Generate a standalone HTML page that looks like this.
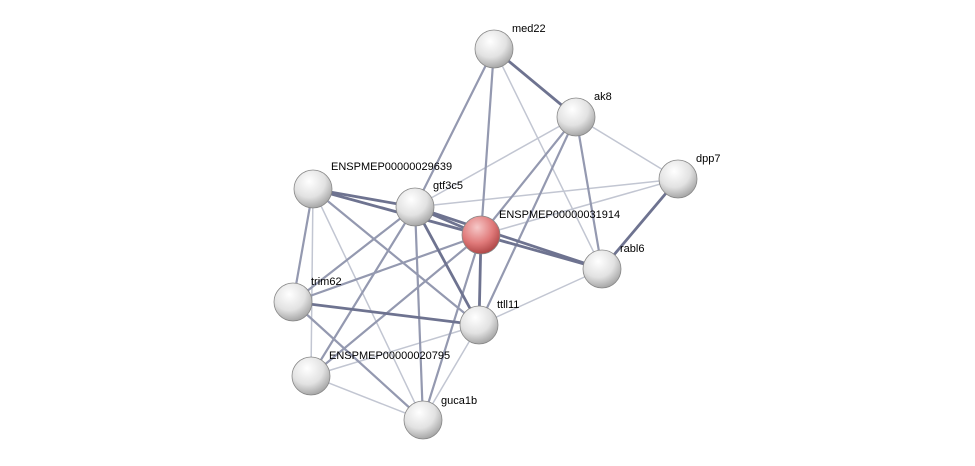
<!DOCTYPE html>
<html><head><meta charset="utf-8"><style>
html,body{margin:0;padding:0;background:#fff;}
svg{display:block;}
text{font-family:"Liberation Sans",sans-serif;font-size:11px;fill:#000;}
</style></head><body>
<svg width="975" height="466" viewBox="0 0 975 466" xmlns="http://www.w3.org/2000/svg">
<defs>
<radialGradient id="g" cx="40%" cy="30%" r="70%">
<stop offset="0" stop-color="#ffffff"/><stop offset="0.6" stop-color="#e2e2e2"/><stop offset="1" stop-color="#a8a8a8"/>
</radialGradient>
<radialGradient id="r" cx="40%" cy="30%" r="70%">
<stop offset="0" stop-color="#f6c8c8"/><stop offset="0.6" stop-color="#e07a7a"/><stop offset="1" stop-color="#b04848"/>
</radialGradient>
</defs>
<g stroke-linecap="round">
<g stroke="#c2c6d2" stroke-width="1.5">
<line x1="494" y1="49" x2="602" y2="269"/>
<line x1="576" y1="117" x2="678" y2="179"/>
<line x1="576" y1="117" x2="415" y2="207"/>
<line x1="678" y1="179" x2="481" y2="235"/>
<line x1="678" y1="179" x2="415" y2="207"/>
<line x1="313" y1="189" x2="423" y2="420"/>
<line x1="313" y1="189" x2="311" y2="376"/>
<line x1="479" y1="325" x2="602" y2="269"/>
<line x1="479" y1="325" x2="311" y2="376"/>
<line x1="311" y1="376" x2="423" y2="420"/>
<line x1="479" y1="325" x2="423" y2="420"/>
</g>
<g stroke="#9499b0" stroke-width="2.2">
<line x1="494" y1="49" x2="415" y2="207"/>
<line x1="494" y1="49" x2="481" y2="235"/>
<line x1="576" y1="117" x2="481" y2="235"/>
<line x1="576" y1="117" x2="602" y2="269"/>
<line x1="576" y1="117" x2="479" y2="325"/>
<line x1="313" y1="189" x2="479" y2="325"/>
<line x1="313" y1="189" x2="293" y2="302"/>
<line x1="415" y1="207" x2="293" y2="302"/>
<line x1="415" y1="207" x2="311" y2="376"/>
<line x1="415" y1="207" x2="423" y2="420"/>
<line x1="481" y1="235" x2="423" y2="420"/>
<line x1="481" y1="235" x2="311" y2="376"/>
<line x1="293" y1="302" x2="481" y2="235"/>
<line x1="293" y1="302" x2="423" y2="420"/>
</g>
<g stroke="#6e7390" stroke-width="2.8">
<line x1="494" y1="49" x2="576" y2="117"/>
<line x1="678" y1="179" x2="602" y2="269"/>
<line x1="313" y1="189" x2="415" y2="207"/>
<line x1="313" y1="189" x2="481" y2="235"/>
<line x1="415" y1="207" x2="481" y2="235"/>
<line x1="415" y1="207" x2="602" y2="269"/>
<line x1="415" y1="207" x2="479" y2="325"/>
<line x1="481" y1="235" x2="602" y2="269"/>
<line x1="481" y1="235" x2="479" y2="325"/>
<line x1="293" y1="302" x2="479" y2="325"/>
</g>
</g>
<g stroke="#888" stroke-width="0.8">
<circle cx="494" cy="49" r="19" fill="url(#g)"/>
<circle cx="576" cy="117" r="19" fill="url(#g)"/>
<circle cx="678" cy="179" r="19" fill="url(#g)"/>
<circle cx="313" cy="189" r="19" fill="url(#g)"/>
<circle cx="415" cy="207" r="19" fill="url(#g)"/>
<circle cx="481" cy="235" r="19" fill="url(#r)"/>
<circle cx="602" cy="269" r="19" fill="url(#g)"/>
<circle cx="293" cy="302" r="19" fill="url(#g)"/>
<circle cx="479" cy="325" r="19" fill="url(#g)"/>
<circle cx="311" cy="376" r="19" fill="url(#g)"/>
<circle cx="423" cy="420" r="19" fill="url(#g)"/>
</g>
<text x="512" y="32">med22</text>
<text x="594" y="100">ak8</text>
<text x="696" y="162">dpp7</text>
<text x="331" y="170">ENSPMEP00000029639</text>
<text x="433" y="189">gtf3c5</text>
<text x="499" y="218">ENSPMEP00000031914</text>
<text x="620" y="252">rabl6</text>
<text x="311" y="285">trim62</text>
<text x="497" y="308">ttll11</text>
<text x="329" y="359">ENSPMEP00000020795</text>
<text x="441" y="404">guca1b</text>
</svg>
</body></html>
